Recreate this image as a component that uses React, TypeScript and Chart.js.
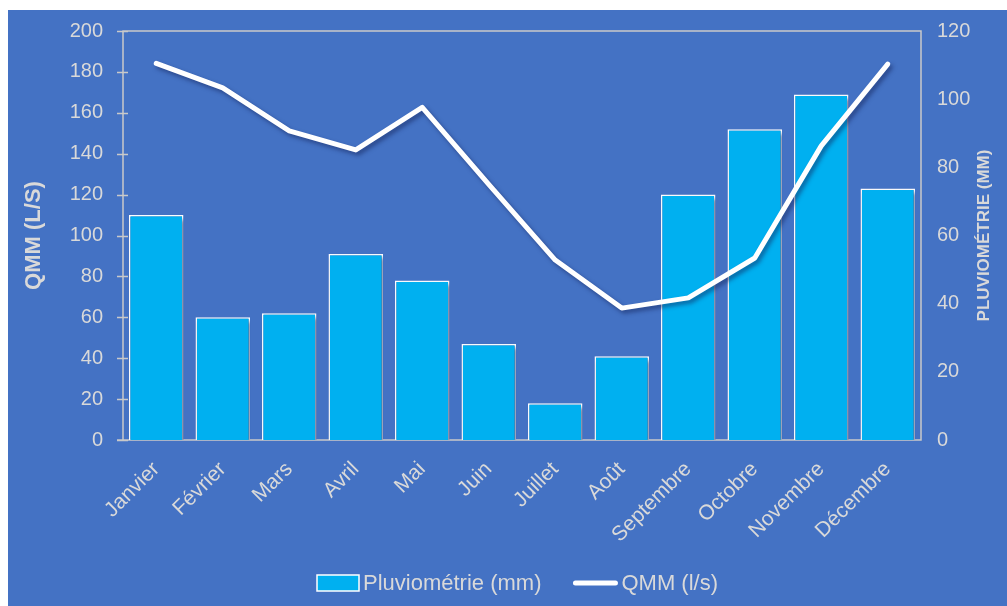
import { useEffect, useRef } from 'react';
import { Chart, registerables } from 'chart.js';

Chart.register(...registerables);

const months = ['Janvier', 'Février', 'Mars', 'Avril', 'Mai', 'Juin', 'Juillet', 'Août', 'Septembre', 'Octobre', 'Novembre', 'Décembre'];
const pluviometrie = [110, 60, 62, 91, 78, 47, 18, 41, 120, 152, 169, 123];
const qmm = [110.5, 103.3, 90.7, 85.1, 97.6, 75, 52.8, 38.7, 41.7, 53.4, 86.3, 110.3];

const barLabel = 'Pluviométrie (mm)';
const lineLabel = 'QMM (l/s)';
const leftTitle = 'QMM (L/S)';
const rightTitle = 'PLUVIOMÉTRIE (MM)';

const FONT = '"Liberation Sans", Arial, sans-serif';
const BG = '#4472C4';
const BAR = '#00B0F0';
const TEXT = '#D9D9D9';
const FRAME = '#C9C9C9';

const decorations = {
  id: 'decorations',
  beforeDraw(chart: any) {
    const { ctx, width, height } = chart;
    ctx.save();
    ctx.fillStyle = BG;
    ctx.fillRect(0, 0, width, height);
    ctx.restore();
  },
  beforeDatasetsDraw(chart: any) {
    const { ctx, chartArea } = chart;
    const { left, right, top, bottom } = chartArea;
    const yScale = chart.scales.y;
    ctx.save();
    ctx.strokeStyle = FRAME;
    ctx.lineWidth = 1.5;
    ctx.beginPath();
    ctx.rect(left, top, right - left, bottom - top);
    ctx.moveTo(left - 6, bottom);
    ctx.lineTo(left, bottom);
    // cross ticks on the left axis
    yScale.ticks.forEach((t: any) => {
      const py = Math.round(yScale.getPixelForValue(t.value)) + 0.5;
      ctx.moveTo(left - 6, py);
      ctx.lineTo(left + 5, py);
    });
    ctx.stroke();
    ctx.restore();
    // soft drop shadow for bars and line
    ctx.save();
    ctx.shadowColor = 'rgba(20, 35, 90, 0.55)';
    ctx.shadowOffsetX = 2.5;
    ctx.shadowOffsetY = 3;
    ctx.shadowBlur = 4;
  },
  afterDatasetsDraw(chart: any) {
    chart.ctx.restore();
  },
  afterDraw(chart: any) {
    const { ctx, chartArea } = chart;
    const midY = (chartArea.top + chartArea.bottom) / 2;
    ctx.save();
    ctx.fillStyle = TEXT;
    ctx.textAlign = 'center';
    ctx.textBaseline = 'middle';

    ctx.save();
    ctx.font = `bold 22px ${FONT}`;
    ctx.translate(26, midY);
    ctx.rotate(-Math.PI / 2);
    ctx.fillText(leftTitle, 0, 0);
    ctx.restore();

    ctx.save();
    ctx.font = `bold 17px ${FONT}`;
    ctx.translate(976, midY);
    ctx.rotate(-Math.PI / 2);
    ctx.fillText(rightTitle, 0, 0);
    ctx.restore();

    // legend
    const ds = chart.data.datasets;
    ctx.font = `22px ${FONT}`;
    ctx.textAlign = 'left';
    const w1 = ctx.measureText(ds[0].label).width;
    const w2 = ctx.measureText(ds[1].label).width;
    const boxW = 42;
    const lineW = 44;
    const gap = 4;
    const spacing = 32;
    const total = boxW + gap + w1 + spacing + lineW + gap + w2;
    const cy = 573;
    let x = 509.5 - total / 2;
    ctx.fillStyle = BAR;
    ctx.fillRect(x, cy - 8, boxW, 16);
    ctx.strokeStyle = '#FFFFFF';
    ctx.lineWidth = 1.5;
    ctx.strokeRect(x, cy - 8, boxW, 16);
    x += boxW + gap;
    ctx.fillStyle = TEXT;
    ctx.fillText(ds[0].label, x, cy + 1);
    x += w1 + spacing;
    ctx.strokeStyle = '#FFFFFF';
    ctx.lineWidth = 5;
    ctx.lineCap = 'round';
    ctx.beginPath();
    ctx.moveTo(x + 2, cy);
    ctx.lineTo(x + lineW - 2, cy);
    ctx.stroke();
    x += lineW + gap;
    ctx.fillText(ds[1].label, x, cy + 1);
    ctx.restore();
  },
};

export default function App() {
  const canvasRef = useRef<HTMLCanvasElement>(null);

  useEffect(() => {
    document.body.style.margin = '0';
    document.body.style.overflow = 'hidden';
    const canvas = canvasRef.current;
    if (!canvas) return;
    const chart = new Chart(canvas, {
      type: 'bar',
      data: {
        labels: months,
        datasets: [
          {
            type: 'bar',
            label: barLabel,
            data: pluviometrie,
            backgroundColor: BAR,
            borderColor: '#FFFFFF',
            borderWidth: 1.5,
            barPercentage: 0.82,
            categoryPercentage: 1,
            yAxisID: 'y',
            order: 2,
          },
          {
            type: 'line',
            label: lineLabel,
            data: qmm,
            borderColor: '#FFFFFF',
            backgroundColor: '#FFFFFF',
            borderWidth: 5,
            pointRadius: 0,
            tension: 0,
            borderCapStyle: 'round',
            borderJoinStyle: 'round',
            yAxisID: 'y1',
            order: 1,
          },
        ],
      },
      options: {
        responsive: false,
        animation: false,
        devicePixelRatio: 1,
        layout: { padding: { top: 21, left: 0, right: 0, bottom: 0 } },
        plugins: {
          legend: { display: false },
          tooltip: { enabled: false },
        },
        scales: {
          x: {
            grid: { display: false, drawTicks: false },
            border: { display: false },
            ticks: {
              color: TEXT,
              font: { family: FONT, size: 21 },
              minRotation: 45,
              maxRotation: 45,
              autoSkip: false,
              padding: 17,
            },
            afterFit(scale: any) {
              scale.height = 166;
            },
          },
          y: {
            position: 'left',
            min: 0,
            max: 200,
            grid: { display: false, drawTicks: true, tickLength: 20 },
            border: { display: false },
            ticks: {
              stepSize: 20,
              color: TEXT,
              font: { family: FONT, size: 20 },
              padding: 0,
            },
            afterFit(scale: any) {
              scale.width = 115;
            },
          },
          y1: {
            position: 'right',
            min: 0,
            max: 120,
            grid: { display: false, drawTicks: true, tickLength: 16 },
            border: { display: false },
            ticks: {
              stepSize: 20,
              color: TEXT,
              font: { family: FONT, size: 20 },
              padding: 0,
            },
            afterFit(scale: any) {
              scale.width = 86;
            },
          },
        },
      },
      plugins: [decorations],
    });
    return () => chart.destroy();
  }, []);

  return (
    <div style={{ padding: '10px 0 0 8px', width: 999, height: 596 }}>
      <canvas ref={canvasRef} width={999} height={596} style={{ display: 'block' }} />
    </div>
  );
}
